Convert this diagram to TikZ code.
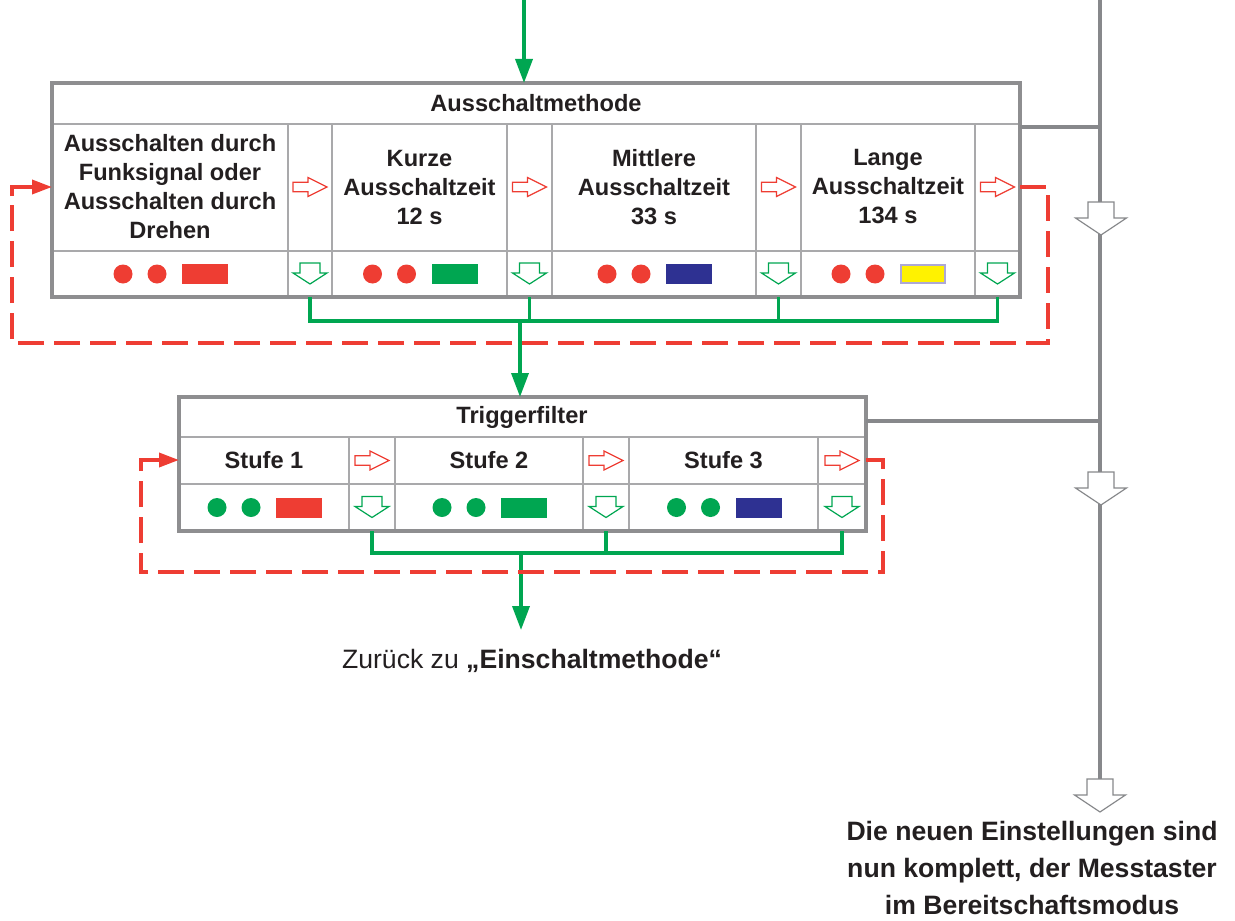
\documentclass[tikz,border=0pt]{standalone}
\usepackage{fontspec}
\setmainfont{Liberation Sans}
\usetikzlibrary{calc,arrows.meta}
\definecolor{rotton}{HTML}{EE3D33}
\definecolor{gruenton}{HTML}{00A651}
\definecolor{blauton}{HTML}{2E3192}
\definecolor{gelbton}{HTML}{FFF200}
\definecolor{lilaton}{HTML}{ADA8D6}
\definecolor{grauton}{HTML}{87888B}
\definecolor{rahmenton}{HTML}{8E8E90}
\definecolor{linieton}{HTML}{A9A9AB}
\definecolor{textton}{HTML}{231F20}
\newcommand{\pfeilrechts}[1]{\foreach \p in {#1} \draw[rotton,line width=0.6pt,fill=white,shift={(\p)}] (-17,-4.7) -- (-2,-4.7) -- (-2,-9.5) -- (17,0) -- (-2,9.5) -- (-2,4.7) -- (-17,4.7) -- cycle;}
\newcommand{\pfeilrunter}[1]{\foreach \p in {#1} \draw[gruenton,line width=0.6pt,fill=white,shift={(\p)}] (-10,-11) -- (10,-11) -- (10,-1) -- (17,-1) -- (0,10) -- (-17,-1) -- (-10,-1) -- cycle;}
\newcommand{\pfeilgrau}[1]{\foreach \p in {#1} \draw[grauton,line width=0.6pt,fill=white,shift={(\p)}] (-13,-16) -- (13,-16) -- (13,0) -- (25.5,0) -- (0,17) -- (-25.5,0) -- (-13,0) -- cycle;}
\newcommand{\anzeige}[4]{\fill[#2] ($(#1)+(-47,0)$) circle (4.75pt) ($(#1)+(-13,0)$) circle (4.75pt);
  \filldraw[fill=#3,draw=#4,line width=1pt] ($(#1)+(13,-9)$) rectangle ($(#1)+(57,9)$);}

\begin{document}
\begin{tikzpicture}[x=0.5pt,y=-0.5pt,
  tabrand/.style={rahmenton,line width=1.6pt},
  tabgitter/.style={linieton,line width=1pt},
  zelle/.style={font=\bfseries\fontsize{11.8}{14.5}\selectfont,align=center,text=textton},
  hinweis/.style={font=\fontsize{13.3}{18.5}\selectfont,align=center,text=textton},
  gruenweg/.style={gruenton,line width=1.8pt},
  rueckweg/.style={rotton,line width=1.8pt,dash pattern=on 13pt off 5pt},
  grauweg/.style={grauton,line width=2pt},
  spitze/.style={-{Triangle[length=12pt,width=8.5pt]}},
  rotspitze/.style={-{Triangle[length=10pt,width=7pt]}}]
  \useasboundingbox (0,0) rectangle (1235,920);

  % Ausschaltmethode
  \draw[tabgitter] (52,124) -- (1020,124) (52,251) -- (1020,251);
  \foreach \x in {288,332,507,552,756,801,975} \draw[tabgitter] (\x,124) -- (\x,297);
  \draw[tabrand] (52,83) rectangle (1020,297);
  \coordinate (zu) at (524,0);
  \coordinate (aoben) at (524,83);
  \coordinate (arechts) at (1020,187);
  \coordinate (alinks) at (52,187);
  \coordinate (agrau) at (1020,127);
  \foreach \x [count=\i] in {310,529.5,778.5,997.5} {
    \coordinate (r\i) at (\x,187);
    \coordinate (d\i) at (\x,274);
    \coordinate (u\i) at (\x,297);
  }
  \coordinate (sam1) at (520,321);

  \node[zelle] (kopf1) at (536,103) {Ausschaltmethode};
  \node[zelle] (funk) at (170,187) {Ausschalten durch\\Funksignal oder\\Ausschalten durch\\Drehen};
  \node[zelle] (kurz) at (419.5,187) {Kurze\\Ausschaltzeit\\12 s};
  \node[zelle] (mittel) at (654,187) {Mittlere\\Ausschaltzeit\\33 s};
  \node[zelle] (lang) at (888,187) {Lange\\Ausschaltzeit\\134 s};
  \pfeilrechts{r1,r2,r3,r4}
  \pfeilrunter{d1,d2,d3,d4}
  \anzeige{170,274}{rotton}{rotton}{rotton}
  \anzeige{419.5,274}{rotton}{gruenton}{gruenton}
  \anzeige{654,274}{rotton}{blauton}{blauton}
  \anzeige{888,274}{rotton}{gelbton}{lilaton}

  % Triggerfilter
  \draw[tabgitter] (179,437) -- (866,437) (179,484) -- (866,484);
  \foreach \x in {349,395,583,629,818} \draw[tabgitter] (\x,437) -- (\x,531);
  \draw[tabrand] (179,397) rectangle (866,531);
  \coordinate (toben) at (520,397);
  \coordinate (trechts) at (866,460);
  \coordinate (tlinks) at (179,460);
  \coordinate (tgrau) at (866,421);
  \foreach \x [count=\i] in {372,606,842} {
    \coordinate (tr\i) at (\x,460.5);
    \coordinate (td\i) at (\x,507.5);
    \coordinate (tu\i) at (\x,531);
  }
  \coordinate (sam2) at (521,553);
  \coordinate (ende) at (521,630);

  \node[zelle] (kopf2) at (522,417) {Triggerfilter};
  \node[zelle] (stufe1) at (264,460.5) {Stufe 1};
  \node[zelle] (stufe2) at (489,460.5) {Stufe 2};
  \node[zelle] (stufe3) at (723.5,460.5) {Stufe 3};
  \pfeilrechts{tr1,tr2,tr3}
  \pfeilrunter{td1,td2,td3}
  \anzeige{264,507.5}{gruenton}{rotton}{rotton}
  \anzeige{489,507.5}{gruenton}{gruenton}{gruenton}
  \anzeige{723.5,507.5}{gruenton}{blauton}{blauton}

  % gruene Wege
  \draw[gruenweg,spitze] (zu) -- (aoben);
  \draw[gruenweg] (u1) |- (u4 |- sam1) -- (u4);
  \draw[gruenweg] (u2) -- (u2 |- sam1);
  \draw[gruenweg] (u3) -- (u3 |- sam1);
  \draw[gruenweg,spitze] (sam1) -- (toben);
  \draw[gruenweg] (tu1) |- (tu3 |- sam2) -- (tu3);
  \draw[gruenweg] (tu2) -- (tu2 |- sam2);
  \draw[gruenweg,spitze] (sam2) -- (ende);

  % Ruecksprung
  \draw[rueckweg] (arechts) -- (1048,187) -- (1048,343) -- (12,343) -- (12,195);
  \draw[rotton,line width=1.8pt,rotspitze] (12,196) -- (12,187) -- (alinks);
  \draw[rueckweg] (trechts) -- (883,460) -- (883,572) -- (141,572) -- (141,468);
  \draw[rotton,line width=1.8pt,rotspitze] (141,469) -- (141,460) -- (tlinks);

  % Bereitschaft
  \coordinate (goben) at (1100,0);
  \coordinate (gunten) at (1100,779);
  \draw[grauweg] (goben) -- (gunten);
  \draw[grauweg] (agrau) -- (agrau -| goben);
  \draw[grauweg] (tgrau) -- (tgrau -| goben);
  \coordinate (g1) at (1101,218);
  \coordinate (g2) at (1101,488);
  \coordinate (g3) at (1100,795);
  \pfeilgrau{g1,g2,g3}

  \node[hinweis] (zurueck) at (532,661) {Zurück zu \textbf{„Einschaltmethode“}};
  \node[hinweis,font=\bfseries\fontsize{13.3}{18.5}\selectfont] (fertig) at (1032,868) {Die neuen Einstellungen sind\\nun komplett, der Messtaster\\im Bereitschaftsmodus};
\end{tikzpicture}
\end{document}
